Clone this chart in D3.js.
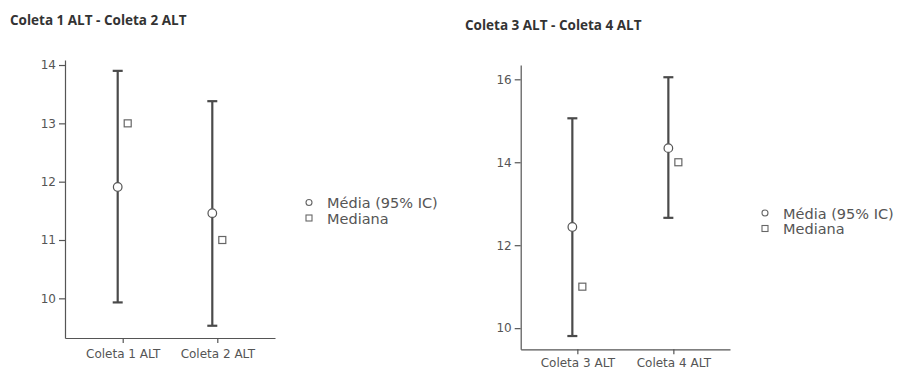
<!DOCTYPE html>
<html><head><meta charset="utf-8">
<script src="https://cdn.jsdelivr.net/npm/d3@7"></script>
<style>
body{margin:0;background:#fff;}
svg{display:block;}
</style></head>
<body>
<svg id="chart" width="901" height="370"></svg>
<script>
// ---- data ----
const categories1 = ["Coleta 1 ALT", "Coleta 2 ALT"];
const means1 = [11.91, 11.46];
const lower1 = [9.93, 9.53];
const upper1 = [13.90, 13.38];
const medians1 = [13, 11];
const yTicks1 = [10, 11, 12, 13, 14];
const title1 = "Coleta 1 ALT - Coleta 2 ALT";

const categories2 = ["Coleta 3 ALT", "Coleta 4 ALT"];
const means2 = [12.44, 14.34];
const lower2 = [9.81, 12.66];
const upper2 = [15.06, 16.05];
const medians2 = [11, 14];
const yTicks2 = [10, 12, 14, 16];
const title2 = "Coleta 3 ALT - Coleta 4 ALT";

const legendLabels = ["Média (95% IC)", "Mediana"];

const svg = d3.select("#chart");
const FONT = "'DejaVu Sans', Verdana, sans-serif";

function panel(cfg) {
  const g = svg.append("g");
  g.append("text").attr("x", cfg.titleX).attr("y", cfg.titleY)
    .attr("font-family", "'Open Sans', sans-serif").attr("font-weight", 700)
    .attr("font-size", 13.5).attr("fill", "#333").text(cfg.title);

  const x = d3.scalePoint().domain(cfg.categories).range([cfg.x0, cfg.x1]).padding(cfg.pad);
  const y = d3.scaleLinear().domain(cfg.yDomain).range([cfg.y1, cfg.y0]);

  const yAxis = g.append("g").attr("transform", `translate(${cfg.x0},0)`)
    .call(d3.axisLeft(y).tickValues(cfg.yTicks).tickFormat(d3.format("d"))
      .tickSize(6).tickPadding(3).tickSizeOuter(0));
  const xAxis = g.append("g").attr("transform", `translate(0,${cfg.y1})`)
    .call(d3.axisBottom(x).tickSize(5).tickPadding(cfg.xPad).tickSizeOuter(0));
  [yAxis, xAxis].forEach(a => {
    a.select(".domain").attr("stroke", "#555").attr("stroke-width", 1.2);
    a.selectAll(".tick line").attr("stroke", "#555").attr("stroke-width", 1.2);
    a.selectAll(".tick text").attr("fill", "#555")
      .attr("font-family", FONT).attr("font-size", 12);
  });

  const data = cfg.categories.map((c, i) => ({c, m: cfg.means[i], lo: cfg.lower[i], hi: cfg.upper[i], md: cfg.medians[i]}));
  const off = 5, cap = 5;
  const eg = g.append("g");
  data.forEach(d => {
    const cx = x(d.c) - off;
    eg.append("line").attr("x1", cx).attr("x2", cx).attr("y1", y(d.lo)).attr("y2", y(d.hi))
      .attr("stroke", "#4a4a4a").attr("stroke-width", 2.2);
    [d.lo, d.hi].forEach(v => eg.append("line").attr("x1", cx - cap).attr("x2", cx + cap)
      .attr("y1", y(v)).attr("y2", y(v)).attr("stroke", "#4a4a4a").attr("stroke-width", 2.2));
    eg.append("circle").attr("cx", cx).attr("cy", y(d.m)).attr("r", 4.3)
      .attr("fill", "#fff").attr("stroke", "#555").attr("stroke-width", 1.2);
    eg.append("rect").attr("x", x(d.c) + off - 3.5).attr("y", y(d.md) - 3.5)
      .attr("width", 7).attr("height", 7).attr("fill", "#fff").attr("stroke", "#666").attr("stroke-width", 1.2);
  });

  // legend
  const sp = 15.5;
  const lg = g.append("g").attr("transform", `translate(${cfg.legX},${cfg.legY})`);
  lg.append("circle").attr("cx", 0).attr("cy", 0).attr("r", 3)
    .attr("fill", "#fff").attr("stroke", "#666").attr("stroke-width", 1.1);
  lg.append("rect").attr("x", -3).attr("y", sp - 3).attr("width", 6).attr("height", 6)
    .attr("fill", "#fff").attr("stroke", "#666").attr("stroke-width", 1.1);
  legendLabels.forEach((t, i) => lg.append("text").attr("x", 18).attr("y", i * sp + 5.5)
    .attr("font-family", FONT).attr("font-size", 14.5)
    .attr("fill", "#555").text(t));
}

panel({title: title1, titleX: 10, titleY: 25, categories: categories1, means: means1, lower: lower1,
  upper: upper1, medians: medians1, yTicks: yTicks1, yDomain: [9.32, 14.086],
  x0: 65, x1: 275, y0: 60, y1: 338, pad: 0.61, xPad: 6, legX: 309, legY: 202.5});
panel({title: title2, titleX: 465, titleY: 30, categories: categories2, means: means2, lower: lower2,
  upper: upper2, medians: medians2, yTicks: yTicks2, yDomain: [9.49, 16.345],
  x0: 520.7, x1: 730, y0: 65, y1: 349.3, pad: 0.59, xPad: 4, legX: 765, legY: 213});
</script>
</body></html>
